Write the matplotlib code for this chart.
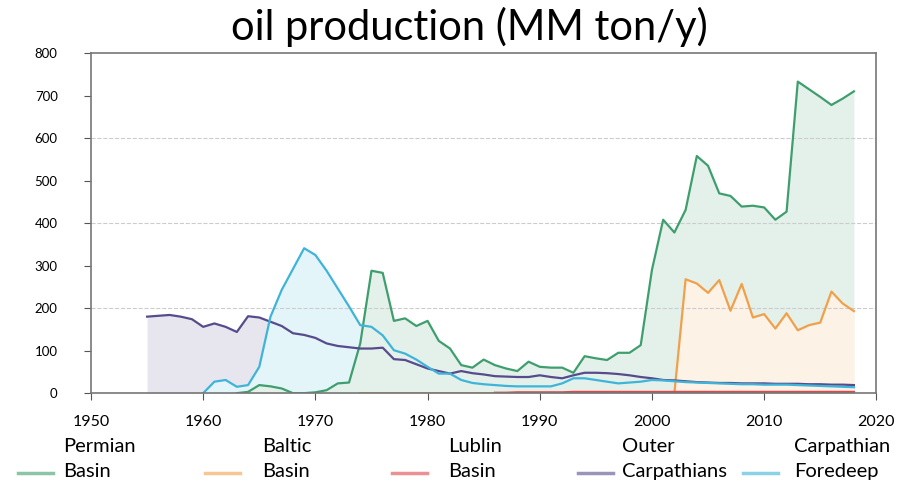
import matplotlib
matplotlib.use("Agg")
import matplotlib.pyplot as plt
from matplotlib.colors import to_rgb
import numpy as np

plt.rcParams["font.family"] = ["Lato", "DejaVu Sans"]

# yearly production, MM ton/y
permian_years = list(range(1963, 2019))
permian = [0, 3, 19, 16, 11, 0, 0, 2, 7, 23, 25, 117, 288, 283, 170, 176, 158, 170, 123, 105,
           66, 60, 79, 66, 58, 52, 74, 62, 60, 60, 48, 87, 82, 78, 95, 95, 113, 290, 408, 378,
           431, 558, 535, 470, 464, 439, 441, 437, 408, 427, 733, 715, 697, 678, 693, 710]

baltic_years = list(range(1974, 2019))
baltic = [0] * 28 + [0, 268, 258, 236, 266, 194, 257, 178, 186, 152, 188, 148, 160, 166, 239, 211, 193]

lublin_years = list(range(1986, 2019))
lublin = [1, 1, 2, 2, 2, 2, 2, 3, 3, 3, 3, 3, 3, 3, 3, 3, 3, 3, 3, 3, 3, 3, 3, 3, 3, 3, 3, 3,
          3, 3, 3, 3, 3]

outer_years = list(range(1955, 2019))
outer = [180, 182, 184, 180, 174, 156, 164, 156, 144, 181, 178, 168, 158, 141, 137, 130, 117,
         111, 108, 105, 105, 107, 80, 78, 68, 58, 52, 46, 52, 47, 44, 40, 39, 38, 38, 42, 38,
         35, 42, 48, 48, 47, 45, 42, 38, 35, 31, 30, 28, 26, 25, 24, 24, 23, 23, 23, 22, 22,
         22, 21, 21, 20, 20, 19]

foredeep_years = list(range(1960, 2019))
foredeep = [0, 27, 31, 15, 19, 62, 180, 243, 292, 341, 325, 288, 246, 204, 160, 156, 136, 101,
            93, 79, 62, 46, 46, 31, 24, 21, 19, 17, 16, 16, 16, 16, 23, 35, 35, 31, 27, 23, 25,
            27, 31, 30, 28, 26, 25, 24, 23, 22, 21, 21, 20, 20, 20, 19, 18, 17, 16, 15, 14]

labels = ["Permian\nBasin", "Baltic\nBasin", "Lublin\nBasin", "Outer\nCarpathians",
          "Carpathian\nForedeep"]
colors = ["#3f9e6e", "#f0a04b", "#e0474c", "#574b8c", "#3fb4d8"]
# order in which the area fills are stacked (later covers earlier)
fill_order = [3, 4, 0, 1, 2]

series = [
    (permian_years, permian),
    (baltic_years, baltic),
    (lublin_years, lublin),
    (outer_years, outer),
    (foredeep_years, foredeep),
]


def pale(c, a=0.14):
    r, g, b = to_rgb(c)
    return (1 - a + a * r, 1 - a + a * g, 1 - a + a * b)


fig = plt.figure(figsize=(9.1, 4.83), dpi=100)
ax = fig.add_axes([0.1, 0.186, 0.863, 0.704])

for z, i in enumerate(fill_order):
    yrs, vals = series[i]
    ax.fill_between(yrs, 0, vals, color=pale(colors[i]), linewidth=0, zorder=1 + z * 0.01)

lines = []
for (yrs, vals), lab, col in zip(series, labels, colors):
    ln, = ax.plot(yrs, vals, color=col, linewidth=1.6, label=lab, zorder=3)
    lines.append(ln)

ax.set_xlim(1950, 2020)
ax.set_ylim(0, 800)
ax.set_xticks(np.arange(1950, 2021, 10))
ax.set_yticks(np.arange(0, 801, 100))
for g in (200, 400, 600):
    ax.axhline(g, color="#cccccc", linestyle="--", linewidth=0.8, zorder=2)

for s in ax.spines.values():
    s.set_color("#777777")
    s.set_linewidth(1.2)
    s.set_zorder(4)
ax.tick_params(color="#555555", length=5)
ax.tick_params(axis="x", labelsize=11.5, pad=11)
ax.tick_params(axis="y", labelsize=9.5, pad=19)

fig.text(0.516, 0.944, "oil production (MM ton/y)", ha="center", va="center", fontsize=30)

# one legend block per series, handle sitting next to the second text line
handle_x = [18, 205, 392, 578, 743]
text_pad = [0.5, 1.1, 1.05, 0.45, 0.8]
for ln, lab, hx, tp in zip(lines, labels, handle_x, text_pad):
    leg = fig.legend([ln], [lab], loc="center left", bbox_to_anchor=(hx / 910, 1 - 459 / 483),
                     frameon=False, fontsize=14.5, borderpad=0, borderaxespad=0,
                     handlelength=1.75, handletextpad=tp)
    leg.get_texts()[0].set_linespacing(1.55)
    for h in leg.get_lines():
        h.set_ydata(np.asarray(h.get_ydata()) - 10)
        h.set_linewidth(2.5)
        h.set_alpha(0.6)

fig.savefig("out.png", dpi=100)
